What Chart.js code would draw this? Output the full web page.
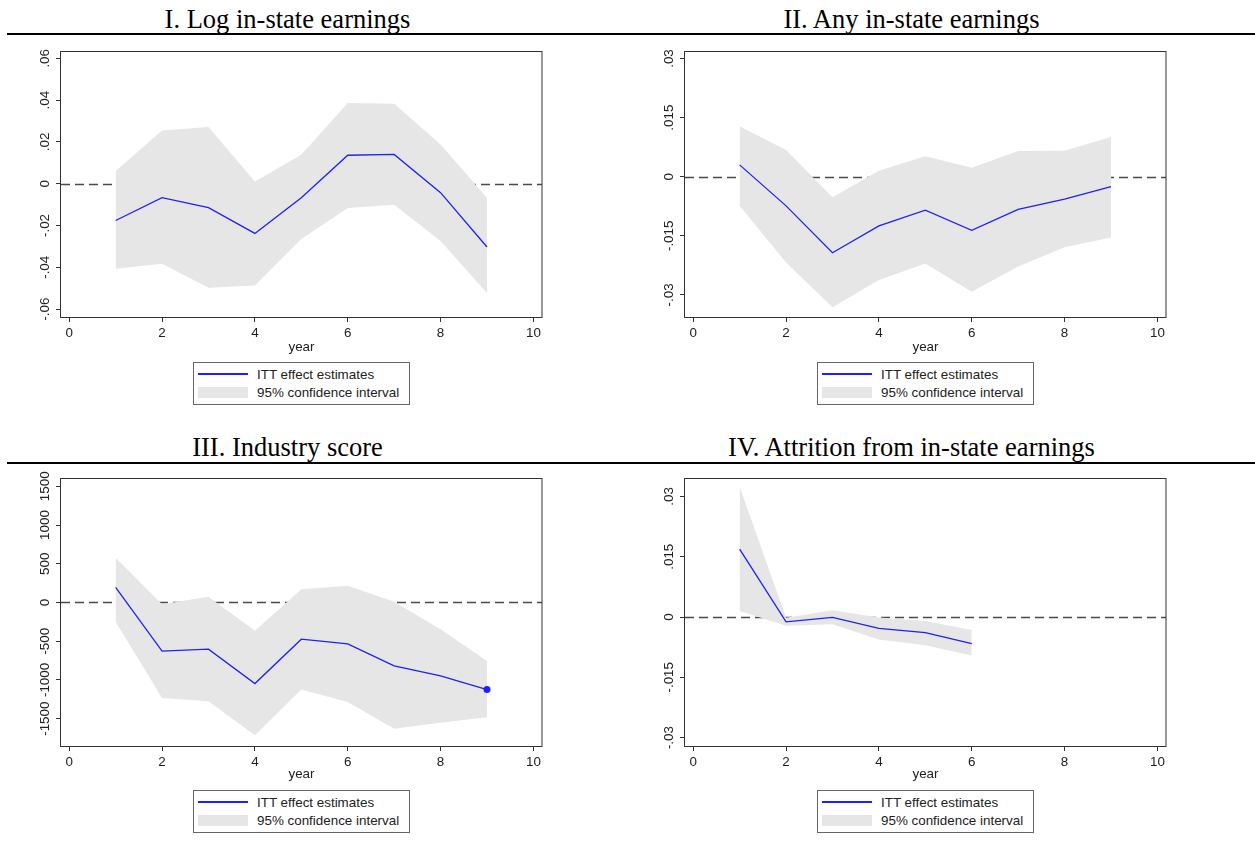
<!DOCTYPE html>
<html>
<head>
<meta charset="utf-8">
<script src="https://cdn.jsdelivr.net/npm/chart.js@4.4.1/dist/chart.umd.min.js"></script>
<style>
  body { margin: 0; background: #fff; width: 1255px; height: 852px; position: relative; overflow: hidden;
         font-family: "Liberation Sans", Arial, sans-serif; }
  .title { position: absolute; width: 620px; text-align: center; white-space: nowrap; color: #000;
           font-family: "Liberation Serif", "Times New Roman", serif; font-size: 26.5px; line-height: 26.5px; }
  .rule { position: absolute; left: 7px; width: 1248px; height: 2px; background: #000; }
  canvas { position: absolute; }
  .legend { position: absolute; width: 215px; height: 41px; border: 1px solid #666; background: #fff;
            font-size: 13.4px; line-height: 15px; color: #222; }
  .legend .ln { position: absolute; left: 4px; top: 10px; width: 50px; height: 1.5px; background: #1f1fff; }
  .legend .sw { position: absolute; left: 4px; top: 24px; width: 50px; height: 11px; background: #e6e6e6; }
  .legend .t1 { position: absolute; left: 63px; top: 4px; white-space: nowrap; }
  .legend .t2 { position: absolute; left: 63px; top: 21.5px; white-space: nowrap; }
</style>
</head>
<body>
<script>
// panel titles and shared text
var titles = ["I. Log in-state earnings", "II. Any in-state earnings", "III. Industry score", "IV. Attrition from in-state earnings"];
var legendLabels = ["ITT effect estimates", "95% confidence interval"];
var xTitle = "year";

// x axis
var xTicks = [0, 2, 4, 6, 8, 10];
var xLabels = ["0", "2", "4", "6", "8", "10"];
var years9 = [1, 2, 3, 4, 5, 6, 7, 8, 9];
var years6 = [1, 2, 3, 4, 5, 6];

// I. Log in-state earnings
var logEst = [-0.0176, -0.0067, -0.0115, -0.0238, -0.0067, 0.0136, 0.0140, -0.0043, -0.0303];
var logHi  = [0.0061, 0.0255, 0.0271, 0.0011, 0.0139, 0.0386, 0.0383, 0.0188, -0.0067];
var logLo  = [-0.0407, -0.0383, -0.0498, -0.0487, -0.0265, -0.0116, -0.0101, -0.0274, -0.0523];
var logTicks = [-0.06, -0.04, -0.02, 0, 0.02, 0.04, 0.06];
var logLabels = ["-.06", "-.04", "-.02", "0", ".02", ".04", ".06"];

// II. Any in-state earnings
var anyEst = [0.0030, -0.0074, -0.0193, -0.0125, -0.0085, -0.0136, -0.0083, -0.0057, -0.0025];
var anyHi  = [0.0128, 0.0068, -0.0052, 0.0015, 0.0052, 0.0023, 0.0065, 0.0066, 0.0101];
var anyLo  = [-0.0074, -0.0218, -0.0331, -0.0262, -0.0220, -0.0292, -0.0228, -0.0179, -0.0154];
var anyTicks = [-0.03, -0.015, 0, 0.015, 0.03];
var anyLabels = ["-.03", "-.015", "0", ".015", ".03"];

// III. Industry score
var indEst = [194, -629, -603, -1047, -474, -534, -819, -948, -1125];
var indHi  = [578, -22, 73, -366, 172, 216, 9, -345, -754];
var indLo  = [-250, -1233, -1276, -1715, -1125, -1284, -1629, -1552, -1483];
var indTicks = [-1500, -1000, -500, 0, 500, 1000, 1500];
var indLabels = ["-1500", "-1000", "-500", "0", "500", "1000", "1500"];

// IV. Attrition from in-state earnings
var attEst = [0.0169, -0.0012, -0.0001, -0.0028, -0.0039, -0.0066];
var attHi  = [0.0324, -0.0002, 0.0017, -0.0001, -0.0010, -0.0032];
var attLo  = [0.0015, -0.0022, -0.0018, -0.0056, -0.0070, -0.0096];
var attTicks = anyTicks;
var attLabels = anyLabels;

var tickFont = { family: '"Liberation Sans", Arial, sans-serif', size: 13.4 };

var panels = [
  { left: 0,   top: 40,  xH: 53, years: years9, est: logEst, hi: logHi, lo: logLo, yTicks: logTicks, yLabels: logLabels, yMin: -0.0638, yMax: 0.0635 },
  { left: 624, top: 40,  xH: 53, years: years9, est: anyEst, hi: anyHi, lo: anyLo, yTicks: anyTicks, yLabels: anyLabels, yMin: -0.0356, yMax: 0.0319 },
  { left: 0,   top: 467, xH: 51, years: years9, est: indEst, hi: indHi, lo: indLo, yTicks: indTicks, yLabels: indLabels, yMin: -1853, yMax: 1607, endDot: true },
  { left: 624, top: 467, xH: 51, years: years6, est: attEst, hi: attHi, lo: attLo, yTicks: attTicks, yLabels: attLabels, yMin: -0.0321, yMax: 0.0346 }
];

// titles + rules + legends (html)
var titleCenters = [287.5, 911.5, 287.5, 911.5];
var titleTops = [6, 6, 433.5, 433.5];
var legendLefts = [193, 817, 193, 817];
var legendTops = [362, 362, 790, 790];
[33, 462].forEach(function (t) {
  var r = document.createElement("div");
  r.className = "rule";
  r.style.top = t + "px";
  document.body.appendChild(r);
});
for (var k = 0; k < 4; k++) {
  var d = document.createElement("div");
  d.className = "title";
  d.style.left = (titleCenters[k] - 310) + "px";
  d.style.top = titleTops[k] + "px";
  d.textContent = titles[k];
  document.body.appendChild(d);

  var lg = document.createElement("div");
  lg.className = "legend";
  lg.style.left = legendLefts[k] + "px";
  lg.style.top = legendTops[k] + "px";
  lg.innerHTML = '<div class="ln"></div><div class="t1">' + legendLabels[0] + '</div>' +
                 '<div class="sw"></div><div class="t2">' + legendLabels[1] + '</div>';
  document.body.appendChild(lg);
}

function makePanel(p) {
  var cv = document.createElement("canvas");
  cv.width = 620;
  cv.height = 330;
  cv.style.left = p.left + "px";
  cv.style.top = p.top + "px";
  document.body.appendChild(cv);

  var pts = function (arr) {
    return arr.map(function (v, i) { return { x: p.years[i], y: v }; });
  };
  var last = p.est.length - 1;

  var deco = {
    id: "deco",
    // dashed zero line sits under the band
    beforeDatasetsDraw: function (chart) {
      var a = chart.chartArea, ctx = chart.ctx;
      var y0 = Math.round(chart.scales.y.getPixelForValue(0)) + 0.5;
      ctx.save();
      ctx.strokeStyle = "#4a4a4a";
      ctx.lineWidth = 1.3;
      ctx.setLineDash([9, 5]);
      ctx.beginPath();
      ctx.moveTo(a.left, y0);
      ctx.lineTo(a.right, y0);
      ctx.stroke();
      ctx.restore();
    },
    afterDatasetsDraw: function (chart) {
      var a = chart.chartArea, ctx = chart.ctx;
      ctx.save();
      ctx.strokeStyle = "#333";
      ctx.lineWidth = 1;
      ctx.strokeRect(Math.round(a.left) - 0.5, Math.round(a.top) + 0.5,
                     Math.round(a.right - a.left) + 0.5, Math.round(a.bottom - a.top));
      ctx.restore();
    },
    // y tick labels turned 90 degrees like stata
    afterDraw: function (chart) {
      var sc = chart.scales.y, ctx = chart.ctx;
      ctx.save();
      ctx.font = '13.4px "Liberation Sans", Arial, sans-serif';
      ctx.fillStyle = "#222";
      ctx.textAlign = "center";
      ctx.textBaseline = "middle";
      p.yTicks.forEach(function (v, i) {
        ctx.save();
        ctx.translate(chart.chartArea.left - 15.5, sc.getPixelForValue(v));
        ctx.rotate(-Math.PI / 2);
        ctx.fillText(p.yLabels[i], 0, 0);
        ctx.restore();
      });
      ctx.restore();
    }
  };

  return new Chart(cv, {
    type: "line",
    data: {
      datasets: [
        {
          data: pts(p.est),
          borderColor: "#1f1fff",
          borderWidth: 1.3,
          pointRadius: function (c) { return p.endDot && c.dataIndex === last ? 3.5 : 0; },
          pointBackgroundColor: "#1f1fff",
          pointBorderWidth: 0,
          fill: false,
          tension: 0
        },
        {
          data: pts(p.hi),
          borderColor: "rgba(0,0,0,0)",
          borderWidth: 0,
          pointRadius: 0,
          backgroundColor: "#e6e6e6",
          fill: "+1",
          tension: 0
        },
        {
          data: pts(p.lo),
          borderColor: "rgba(0,0,0,0)",
          borderWidth: 0,
          pointRadius: 0,
          fill: false,
          tension: 0
        }
      ]
    },
    options: {
      responsive: false,
      animation: false,
      layout: { padding: { left: 0, top: 11, right: 78, bottom: 0 } },
      plugins: { legend: { display: false }, tooltip: { enabled: false } },
      scales: {
        x: {
          type: "linear",
          min: -0.177,
          max: 10.185,
          afterBuildTicks: function (s) { s.ticks = xTicks.map(function (v) { return { value: v }; }); },
          afterFit: function (s) { s.height = p.xH; },
          grid: { drawOnChartArea: false, tickLength: 5, color: "#333" },
          border: { display: false },
          ticks: {
            padding: 3, color: "#222", font: tickFont, maxRotation: 0, autoSkip: false,
            callback: function (v, i) { return xLabels[i]; }
          },
          title: { display: true, text: xTitle, color: "#222", font: tickFont, padding: { top: 0, bottom: 14.6 } }
        },
        y: {
          min: p.yMin,
          max: p.yMax,
          afterBuildTicks: function (s) { s.ticks = p.yTicks.map(function (v) { return { value: v }; }); },
          afterFit: function (s) { s.width = 61; },
          grid: { drawOnChartArea: false, tickLength: 5, color: "#333" },
          border: { display: false },
          ticks: { display: false }
        }
      }
    },
    plugins: [deco]
  });
}

panels.forEach(makePanel);
</script>
</body>
</html>
